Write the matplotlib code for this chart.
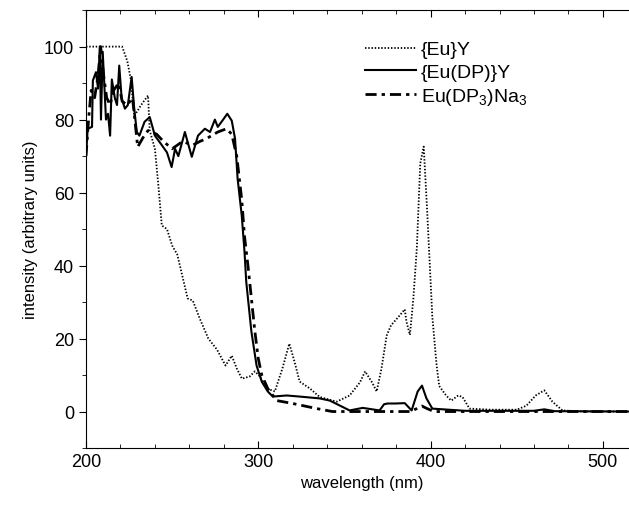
import matplotlib.pyplot as plt
from matplotlib.ticker import MultipleLocator

plt.rcParams["font.family"] = ["Liberation Sans", "DejaVu Sans"]
plt.rcParams["mathtext.fontset"] = "custom"
plt.rcParams["mathtext.rm"] = "Liberation Sans"

# {Eu}Y  (dotted)
euy_x = [200, 210, 221, 224, 226, 228, 232, 236, 237, 240, 242, 244, 247, 250, 253,
         256, 259, 262, 266, 271, 276, 281, 284.6, 287.5, 290.5, 295, 298, 301, 305,
         309.6, 314, 318, 321, 324, 330, 335.6, 345.5, 353, 359, 362, 366, 368.7,
         371.5, 374.5, 377, 382, 385, 386, 388, 390, 392, 394, 396, 398, 401, 403.5,
         405, 409, 412, 416, 418.5, 422.6, 435, 450, 455.6, 461, 466, 470.7, 476.5,
         490, 515]
euy_y = [100, 100, 100, 96, 91, 81, 84, 86.6, 77, 72, 62, 51, 50, 45.5, 43,
         37, 31, 30.4, 25.5, 20, 17, 12.6, 15.3, 11.8, 9, 9.6, 11, 9.6, 6.3,
         5.5, 11.8, 18.6, 13.7, 8.2, 6.3, 4, 2.7, 4.4, 8, 11, 8, 5.5,
         11.8, 20.8, 23.6, 26.3, 28, 24.6, 21, 31, 44.7, 68, 72.6, 55, 26, 12.6,
         7, 4.4, 3, 4.4, 4, 0.8, 0.5, 0.5, 1.6, 4.4, 5.8, 2.7, 0.3,
         0, 0]

# {Eu(DP)}Y  (solid)
dp_x = [200, 201, 203.5, 204, 205.8, 207, 208, 208.7, 209.7, 210.6, 211.6, 212.8,
        214, 215, 216.8, 218, 219.3, 220.7, 222.6, 224.3, 226.5, 228, 229.5, 231,
        234, 237, 240, 244, 247, 249.7, 251.7, 253.6, 257.4, 261.4, 265, 269, 272,
        274.8, 276.5, 279.6, 282, 284.6, 286.5, 288, 290.4, 292, 293, 296, 299,
        302, 305.5, 308.4, 316.5, 324, 335.6, 341.5, 353, 360.6, 370.4, 373, 375,
        379.5, 385, 389, 392.5, 395, 397.6, 401, 420, 460, 466, 472, 515]
dp_y = [70, 77.5, 78, 90.7, 93, 88.5, 100, 80, 98.6, 90, 80, 81.6,
        75.6, 91, 85.8, 84, 94.8, 85.8, 83, 84, 91.7, 83, 76.6, 75.6,
        79.4, 80.7, 75.6, 73, 71, 67, 72, 70, 76.6, 69.8, 75.6, 77.5, 76.6,
        80, 78, 80, 81.6, 79.7, 74.8, 63.8, 53.7, 43.8, 35.6, 21.9, 12.6,
        8.2, 5.5, 4.1, 4.4, 4.1, 3.6, 3, 0.3, 1, 0.3, 2.0, 2.2,
        2.2, 2.3, 0.3, 5.5, 7.1, 3.6, 0.8, 0.2, 0.2, 0.6, 0.1, 0]

# Eu(DP3)Na3  (dash-dot)
na_x = [200, 201.5, 203, 205, 207, 208.5, 210, 212, 214, 216, 219, 221, 224,
        227, 230, 233, 236, 241, 245, 250, 256, 262, 266, 270, 276.5, 281.6,
        284.6, 287.5, 290.4, 292, 294, 296, 298, 300, 302, 305.5, 310.7, 320,
        334, 343, 388, 392, 395, 398, 402, 515]
na_y = [70, 80, 88, 86, 92, 100, 93, 86, 84, 88, 90, 85, 84,
        86, 72.5, 75, 77, 76, 74, 72, 74, 73, 74, 74.8, 76.6, 77.5,
        76, 70, 58, 48, 40, 31, 22, 14.5, 10, 6.3, 3, 2.2,
        0.8, 0, 0, 0.8, 1.5, 0.8, 0, 0]

fig = plt.figure(figsize=(6.29, 5.06), dpi=100)
ax = fig.add_axes([0.1367, 0.1126, 0.8766, 0.8654])

ax.plot(euy_x, euy_y, color="black", lw=1.3, linestyle=(0, (0.8, 1.0)), label="{Eu}Y")
ax.plot(dp_x, dp_y, color="black", lw=1.5, label="{Eu(DP)}Y")
ax.plot(na_x, na_y, color="black", lw=2.0, linestyle=(0, (4, 1.8, 1.2, 1.8)),
        label="Eu(DP$_3$)Na$_3$")

ax.set_xlim(200, 520)
ax.set_ylim(-10, 110)
ax.xaxis.set_major_locator(MultipleLocator(100))
ax.xaxis.set_minor_locator(MultipleLocator(20))
ax.yaxis.set_major_locator(MultipleLocator(20))
ax.yaxis.set_minor_locator(MultipleLocator(10))
ax.tick_params(axis="x", which="both", direction="in", top=True, labelsize=13)
ax.tick_params(axis="y", which="both", direction="out", labelsize=13)
ax.tick_params(which="major", length=5)
ax.tick_params(which="minor", length=3)
ax.spines["right"].set_visible(False)

ax.set_xlabel("wavelength (nm)", fontsize=12)
ax.set_ylabel("intensity (arbitrary units)", fontsize=12)

ax.legend(loc="upper left", bbox_to_anchor=(0.475, 0.97), frameon=False, fontsize=14,
          handlelength=2.6, handletextpad=0.25, labelspacing=0.25)

fig.savefig("out.png", dpi=100)
